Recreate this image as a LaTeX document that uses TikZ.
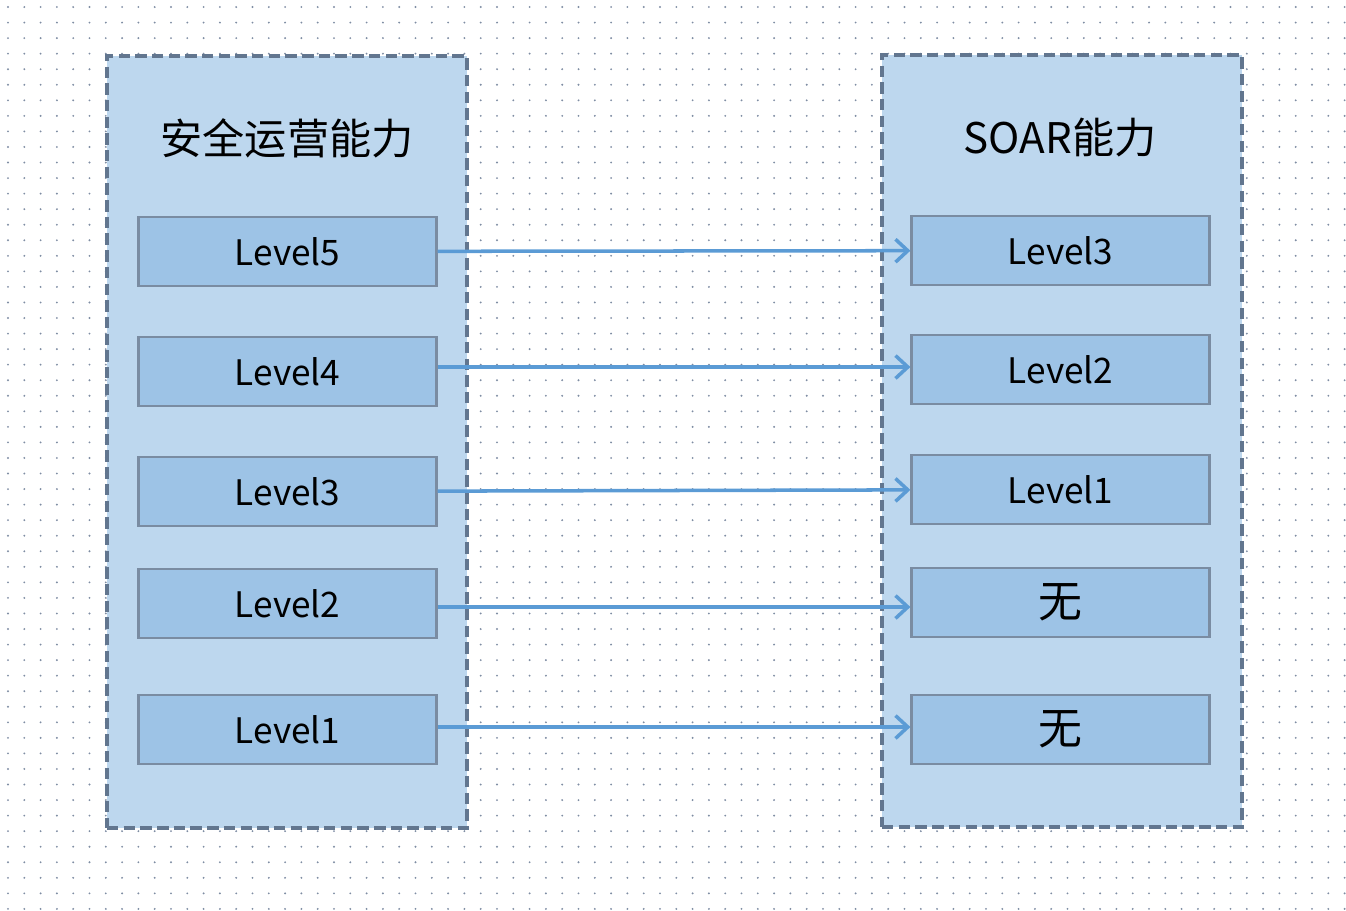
\documentclass[tikz,border=0pt]{standalone}
\usepackage{fontspec}
\setmainfont{Noto Sans CJK SC}
\usepackage{tikz}
\usetikzlibrary{arrows.meta, positioning}
\definecolor{panelfill}{HTML}{BDD7EE}
\definecolor{paneldraw}{HTML}{62768F}
\definecolor{boxfill}{HTML}{9DC3E6}
\definecolor{boxdraw}{HTML}{7A8CA2}
\definecolor{linkblue}{HTML}{5B9BD5}
\definecolor{dotgray}{HTML}{7F8DA3}
\tikzstyle{panel} = [rectangle, draw=paneldraw, fill=panelfill, line width=2pt, dash pattern=on 6.5pt off 3pt, minimum width=7.2cm, minimum height=15.44cm]
\tikzstyle{title} = [font=\fontsize{24}{28}\selectfont]
\tikzstyle{level} = [rectangle, draw=boxdraw, fill=boxfill, line width=1.6pt, minimum width=5.95cm, minimum height=1.38cm, font=\fontsize{20}{24}\selectfont]
\tikzstyle{none} = [font=\fontsize{25}{28}\selectfont]
\tikzstyle{link} = [draw=linkblue, line width=2pt, -{Straight Barb[length=7pt, width=13pt, line width=2pt]}]

\begin{document}
\begin{tikzpicture}[x=0.02cm, y=-0.02cm]
            \useasboundingbox (0,0) rectangle (1346,910);
            % Background dots
            \foreach \i in {0,...,82}
                \foreach \j in {0,...,58}
                    \fill[dotgray] (8+16.3*\i, 7+15.55*\j) circle (1.05);

            % Panels
            \node [panel] (ops) at (287,442) {};
            \node [panel] (soar) at (1062,441) {};
            \node [title] (opstitle) at (287,138) {安全运营能力};
            \node [title] (soartitle) at (1060,138) {SOAR能力};

            % Nodes
            \node [level] (l5) at (287.5,251.5) {Level5};
            \node [level] (l4) at (287.5,371.5) {Level4};
            \node [level] (l3) at (287.5,491.5) {Level3};
            \node [level] (l2) at (287.5,603.5) {Level2};
            \node [level] (l1) at (287.5,729.5) {Level1};
            \node [level] (s3) at (1060.5,250.5) {Level3};
            \node [level] (s2) at (1060.5,369.5) {Level2};
            \node [level] (s1) at (1060.5,489.5) {Level1};
            \node [level, none] (s0) at (1060.5,602.5) {无};
            \node [level, none] (sn) at (1060.5,729.5) {无};

            % Lines
            \path [link] (l5) -- (s3);
            \path [link] (l4.east |- 0,367) -- (s2.west |- 0,367);
            \path [link] (l3) -- (s1);
            \path [link] (l2.east |- 0,607) -- (s0.west |- 0,607);
            \path [link] (l1.east |- 0,727) -- (sn.west |- 0,727);
        \end{tikzpicture}
\end{document}
